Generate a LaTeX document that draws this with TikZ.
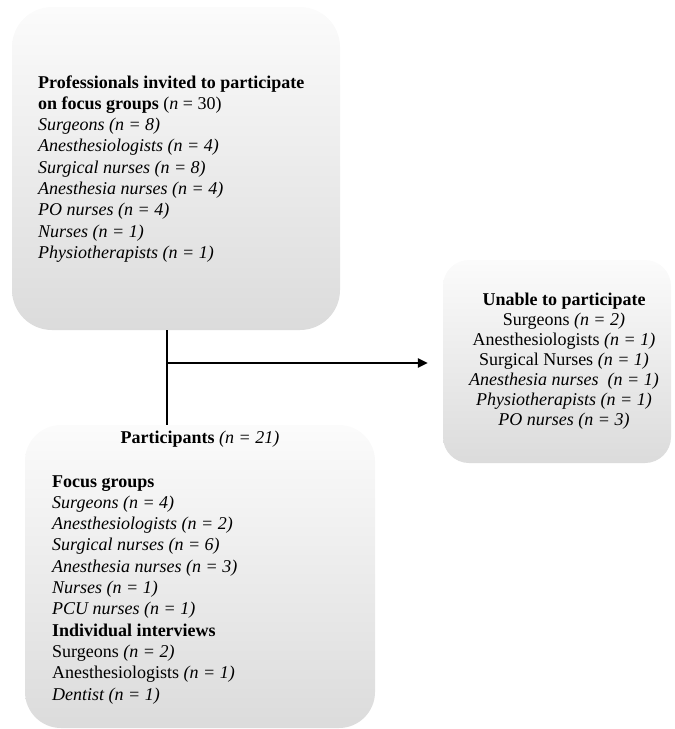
\documentclass[tikz,border=0pt]{standalone}
\usepackage{fontspec}
\setmainfont{Liberation Serif}
\usetikzlibrary{arrows.meta}
\begin{document}
\begin{tikzpicture}[x=1pt,y=-1pt,
  box/.style={rounded corners=#1, top color=gray!3, bottom color=gray!28, draw=none, inner sep=0pt},
  txt/.style={inner sep=0pt, font=\fontsize{18}{21.3}\selectfont},
  link/.style={line width=2.4pt, draw=black}]
\useasboundingbox (0,0) rectangle (675,729);
% boxes
\node[box=40, minimum width=328pt, minimum height=323pt] (b1) at (176,168.5) {};
\node[box=26, minimum width=228pt, minimum height=203pt] (b2) at (557,361.5) {};
\node[box=36, minimum width=350pt, minimum height=303pt] (b3) at (200,576.5) {};
% texts (anchored at the baseline of their last line)
\node[txt, align=left, anchor=base west] (t1) at (38,258.4) {%
\textbf{Professionals invited to participate}\\
\textbf{on focus groups} (\textit{n} = 30)\\
\textit{Surgeons (n = 8)}\\
\textit{Anesthesiologists (n = 4)}\\
\textit{Surgical nurses (n = 8)}\\
\textit{Anesthesia nurses (n = 4)}\\
\textit{PO nurses (n = 4)}\\
\textit{Nurses (n = 1)}\\
\textit{Physiotherapists (n = 1)}};
\node[txt, font=\fontsize{18}{20}\selectfont, align=center, anchor=base] (t2) at (564,425) {%
\textbf{Unable to participate}\\
Surgeons \textit{(n = 2)}\\
Anesthesiologists \textit{(n = 1)}\\
Surgical Nurses \textit{(n = 1)}\\
\textit{Anesthesia nurses \ (n = 1)}\\
\textit{Physiotherapists (n = 1)}\\
\textit{PO nurses (n = 3)}};
\node[txt, anchor=base] (t3) at (200,443) {\textbf{Participants} \textit{(n = 21)}};
\node[txt, align=left, anchor=base west] (t4) at (52,700) {%
\textbf{Focus groups}\\
\textit{Surgeons (n = 4)}\\
\textit{Anesthesiologists (n = 2)}\\
\textit{Surgical nurses (n = 6)}\\
\textit{Anesthesia nurses (n = 3)}\\
\textit{Nurses (n = 1)}\\
\textit{PCU nurses (n = 1)}\\
\textbf{Individual interviews}\\
Surgeons \textit{(n = 2)}\\
Anesthesiologists \textit{(n = 1)}\\
\textit{Dentist (n = 1)}};
% connectors
\coordinate (j) at (167,363);
\draw[link] (b1.south -| j) -- (b3.north -| j);
\draw[link, -{Triangle[length=10pt,width=9pt]}, shorten >=15pt] (j) -- (b2.west |- j);
\end{tikzpicture}
\end{document}
